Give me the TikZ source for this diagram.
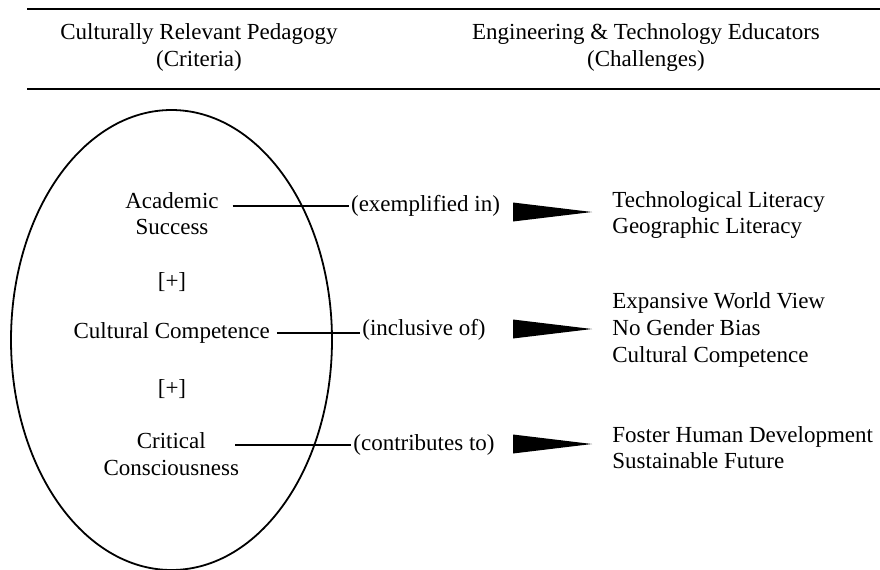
\documentclass[tikz,border=0pt]{standalone}
\usepackage{fontspec}
\setmainfont{Liberation Serif}
\usetikzlibrary{calc}

\begin{document}
\begin{tikzpicture}[x=0.5pt,y=0.5pt,
  txt/.style={font=\fontsize{11.5}{13.3}\selectfont,align=center},
  lbl/.style={font=\fontsize{11.5}{13.3}\selectfont,inner sep=1pt},
  challenge/.style={font=\fontsize{11.5}{13.3}\selectfont,align=left,anchor=west,inner sep=0pt},
  link/.style={line width=0.8pt},
  rule/.style={line width=1pt}]
  \useasboundingbox (0,0) rectangle (880,-569);
  \draw[rule] (27,-8.5) -- (880,-8.5);
  \draw[rule] (27,-88.5) -- (880,-88.5);
  \node[txt] (crp) at (199,-47.5) {Culturally Relevant Pedagogy\\(Criteria)};
  \node[txt] (ete) at (646,-47.5) {Engineering \& Technology Educators\\(Challenges)};
  \draw[line width=0.9pt] (171.5,-340) ellipse (80.25pt and 115pt);
  \node[txt] (acad) at (172,-213.5) {Academic\\Success};
  \node[txt] (plusA) at (172,-282) {[+]};
  \node[txt] (cc) at (171.7,-333) {Cultural Competence};
  \node[txt] (plusB) at (172,-389) {[+]};
  \node[txt] (crit) at (171.3,-454) {Critical\\Consciousness};
  \node[lbl] (ex) at (425.5,-206) {(exemplified in)};
  \node[lbl] (incl) at (424,-330) {(inclusive of)};
  \node[lbl] (contrib) at (424,-445) {(contributes to)};
  \draw[link] ([xshift=3.5pt]acad.east |- ex.west) -- (ex.west);
  \draw[link] (cc.east) -- (cc.east -| incl.west);
  \draw[link] ([xshift=-5.5pt]crit.east |- contrib.west) -- (contrib.west);
  \foreach \y in {212,329,444}
    \fill (513,-\y+9.5) -- (592,-\y) -- (513,-\y-9.5) -- cycle;
  \node[challenge] (tech) at (612,-215) {Technological Literacy\\Geographic Literacy};
  \node[challenge] (world) at (612,-330) {Expansive World View\\No Gender Bias\\Cultural Competence};
  \node[challenge] (human) at (612,-447.5) {Foster Human Development\\Sustainable Future};
\end{tikzpicture}
\end{document}
